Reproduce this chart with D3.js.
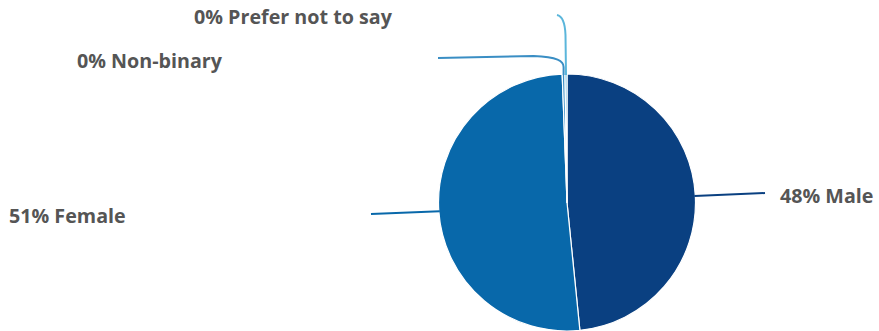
<!DOCTYPE html>
<html>
<head>
<meta charset="utf-8">
<script src="https://cdn.jsdelivr.net/npm/d3@7"></script>
<style>
  html, body { margin: 0; padding: 0; background: #fff; }
  svg { display: block; }
  .lbl { font-family: "Open Sans", Lato, sans-serif; font-weight: 700; font-size: 19.7px; fill: #555; }
</style>
</head>
<body>
<svg id="chart" width="879" height="331"></svg>
<script>
// Gender breakdown (percent of respondents)
const categories = ["Male", "Female", "Non-binary", "Prefer not to say"];
const values = [48.4, 51.0, 0.35, 0.25];
const labels = ["48% Male", "51% Female", "0% Non-binary", "0% Prefer not to say"];
const colors = ["#0a4081", "#0868aa", "#3a8ec4", "#5bb6db"];

const W = 879, H = 331;
const cx = 567, cy = 202.5, R = 128.5;

const svg = d3.select("#chart");
const g = svg.append("g").attr("transform", `translate(${cx},${cy})`);

const data = categories.map((c, i) => ({ name: c, value: values[i], label: labels[i], color: colors[i] }));

const pie = d3.pie().sort(null).value(d => d.value);
const arcs = pie(data);
const arc = d3.arc().innerRadius(0).outerRadius(R);

g.selectAll("path.slice")
  .data(arcs)
  .join("path")
  .attr("class", "slice")
  .attr("d", arc)
  .attr("fill", d => d.data.color)
  .attr("stroke", "#fff")
  .attr("stroke-width", 1.2)
  .attr("stroke-linejoin", "round");

// point on the rim at the slice's mid-angle
function rim(d, r) {
  const a = (d.startAngle + d.endAngle) / 2;
  return [cx + r * Math.sin(a), cy - r * Math.cos(a)];
}

// label placement: text anchor point plus connector end
const layout = {
  "Male":              { tx: 780, ty: 196, anchor: "start", end: [765, 193] },
  "Female":            { tx: 9,   ty: 216, anchor: "start", end: [371, 214] },
  "Non-binary":        { tx: 77,  ty: 61,  anchor: "start", end: [438, 58] },
  "Prefer not to say": { tx: 194, ty: 17,  anchor: "start", end: [557, 15] }
};

const conn = svg.append("g").attr("fill", "none").attr("stroke-width", 2);

arcs.forEach(d => {
  const L = layout[d.data.name];
  const s = rim(d, R - 1);
  const e = L.end;
  const p = d3.path();
  if (d.data.name === "Male" || d.data.name === "Female") {
    p.moveTo(s[0], s[1]);
    p.lineTo(e[0], e[1]);
  } else if (d.data.name === "Non-binary") {
    // run left along the top, bending down into the thin slice
    p.moveTo(s[0], s[1]);
    p.lineTo(s[0], s[1] - 8);
    p.bezierCurveTo(s[0], s[1] - 14, s[0] - 6, e[1] - 1, s[0] - 30, e[1] - 2);
    p.lineTo(e[0], e[1]);
  } else {
    p.moveTo(s[0], s[1]);
    p.lineTo(s[0] - 0.5, e[1] + 20);
    p.bezierCurveTo(s[0] - 1, e[1] + 6, s[0] - 4, e[1] + 1, e[0], e[1]);
  }
  conn.append("path")
    .attr("d", p.toString())
    .attr("stroke", d.data.color);
});

svg.append("g").selectAll("text")
  .data(arcs)
  .join("text")
  .attr("class", "lbl")
  .attr("x", d => layout[d.data.name].tx)
  .attr("y", d => layout[d.data.name].ty)
  .attr("dy", "0.35em")
  .attr("text-anchor", d => layout[d.data.name].anchor)
  .text(d => d.data.label);
</script>
</body>
</html>
